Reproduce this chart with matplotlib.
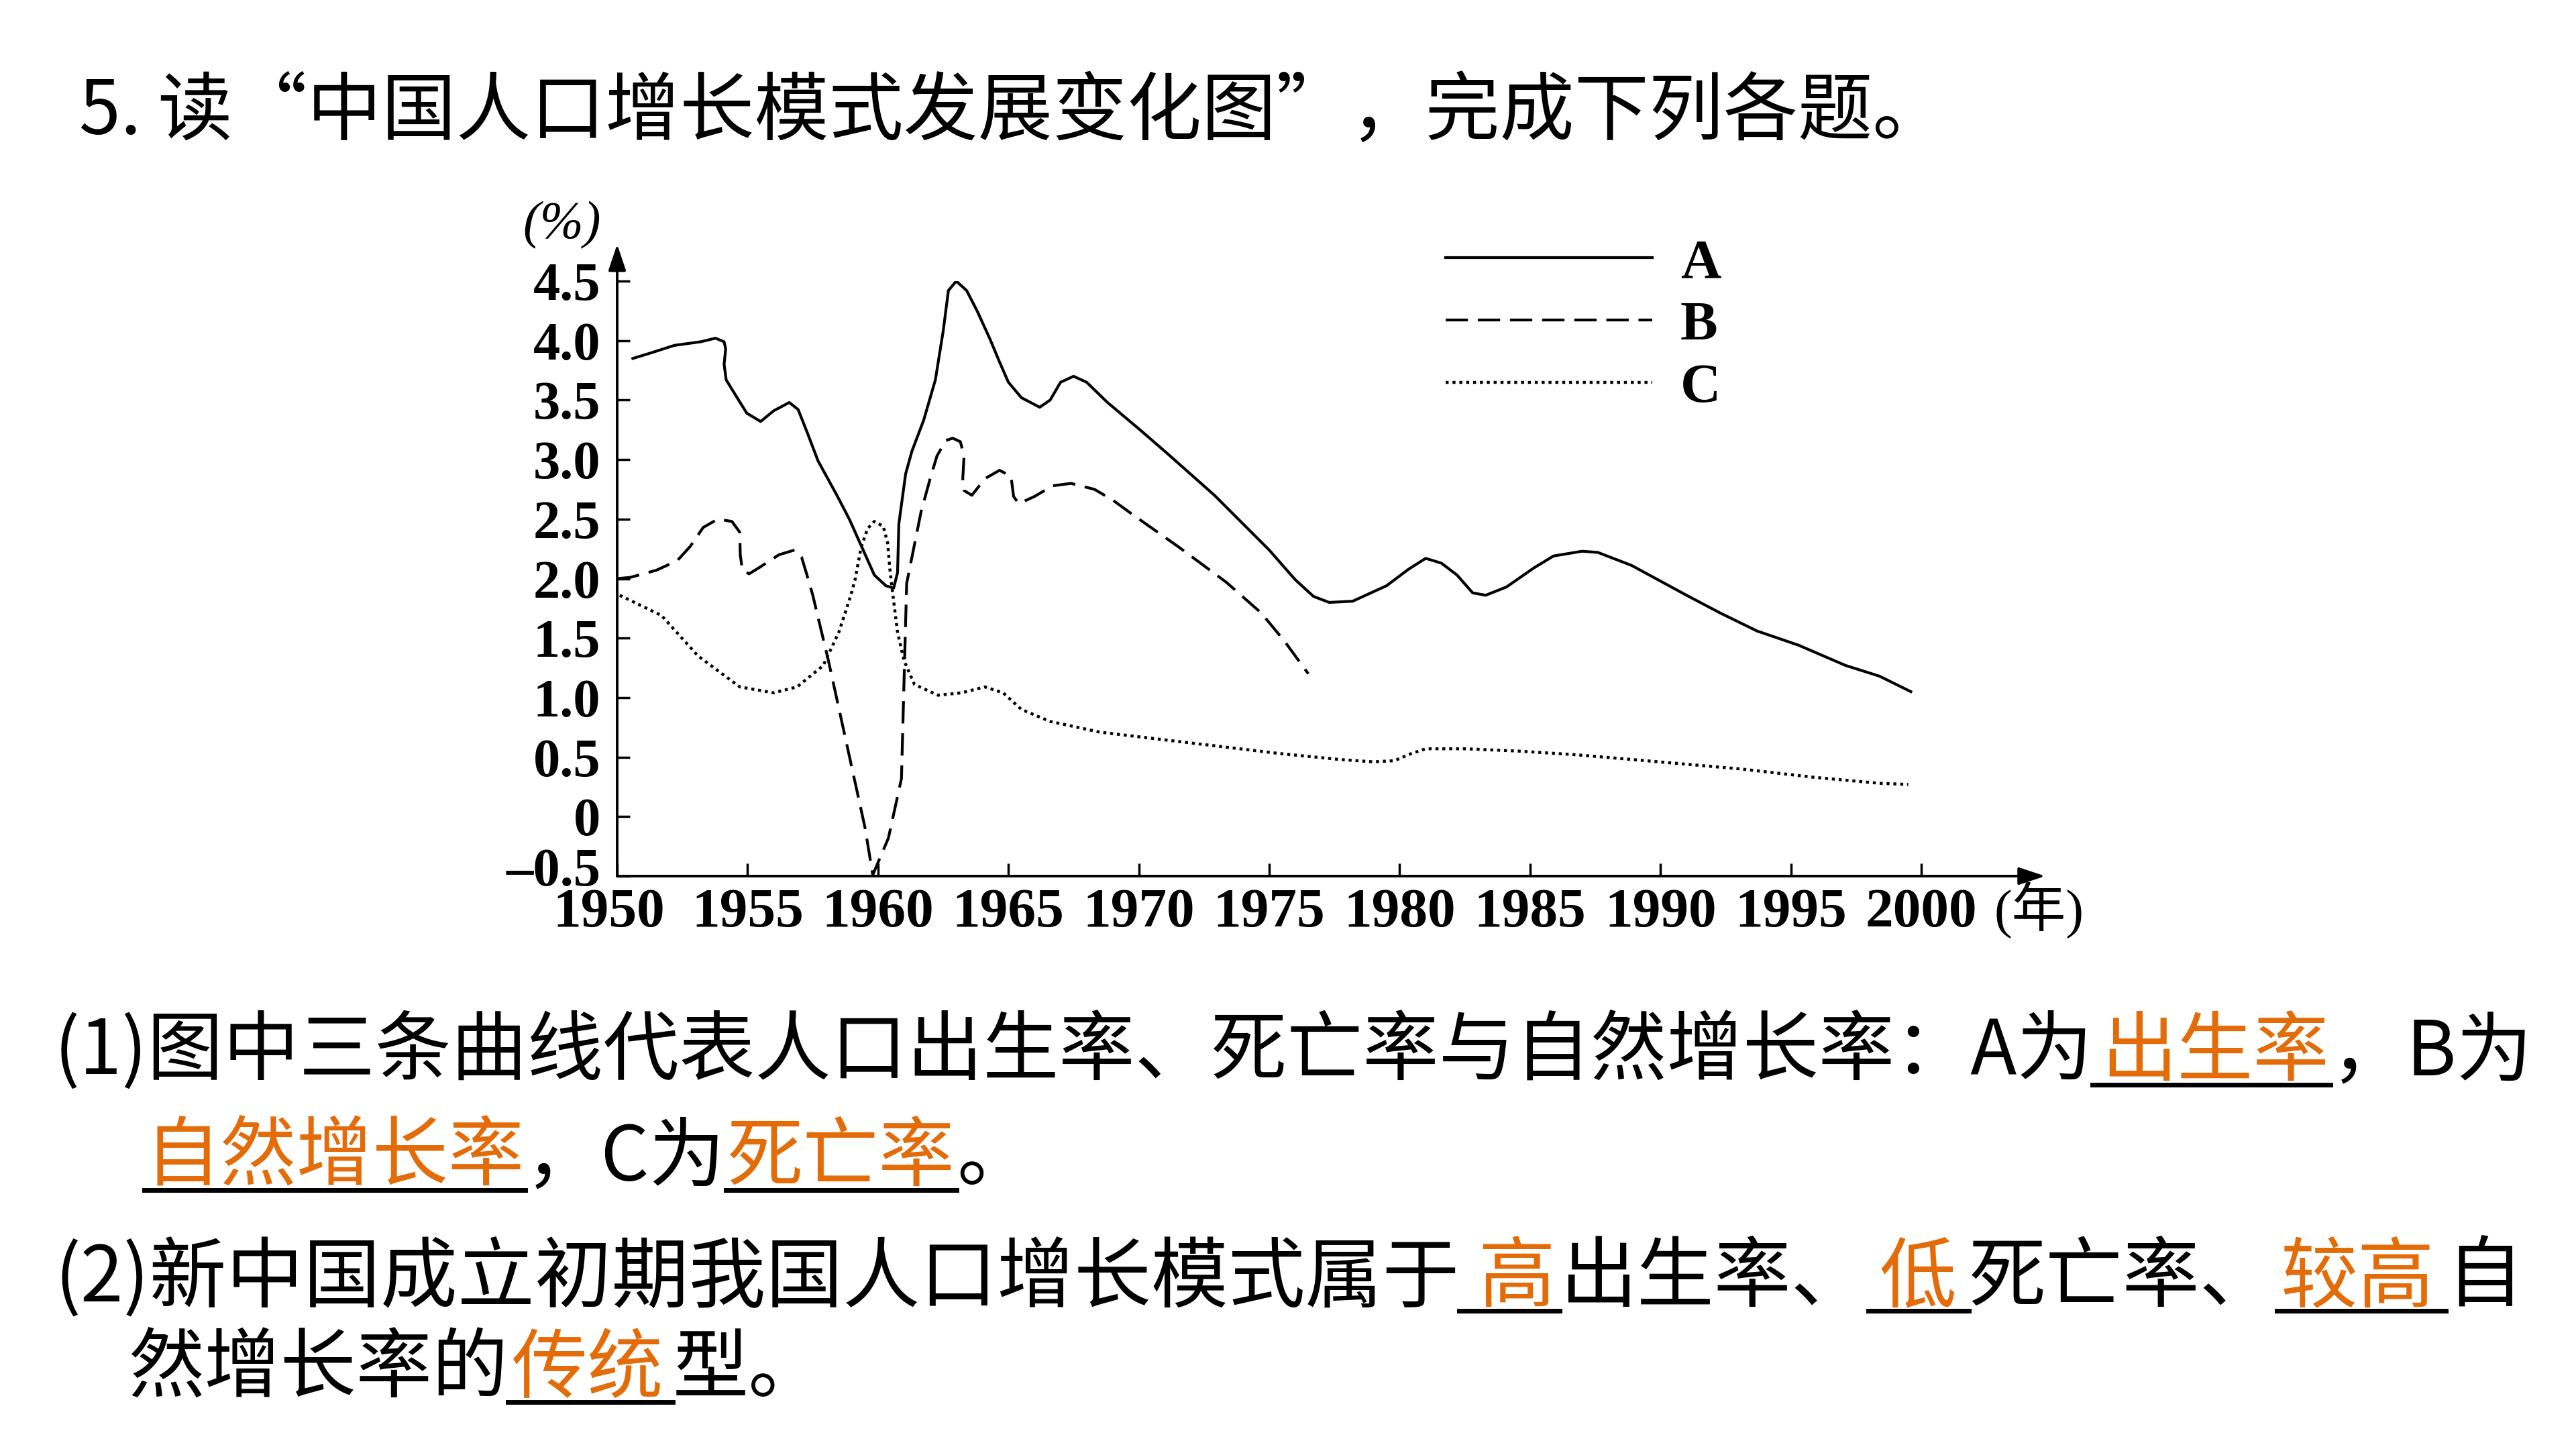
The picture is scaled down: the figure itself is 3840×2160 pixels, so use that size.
import matplotlib
matplotlib.use("Agg")
import matplotlib.pyplot as plt
from matplotlib.lines import Line2D
from matplotlib.transforms import ScaledTranslation
from matplotlib import font_manager as fm
from matplotlib.ft2font import FT2Font

plt.rcParams['font.family'] = ['Noto Sans CJK SC', 'DejaVu Sans']

# --- chart data ---
# A: birth rate
years_a = [1950.6, 1951.2, 1952.2, 1953.2, 1953.77, 1954.1, 1954.16, 1954.1, 1954.18, 1954.6,
           1954.97, 1955.5, 1956.0, 1956.6, 1956.94, 1957.3, 1957.7, 1958.4, 1958.9, 1959.35,
           1959.86, 1960.3, 1960.6, 1960.75, 1960.8, 1961.06, 1961.3, 1961.75, 1962.2, 1962.5,
           1962.7, 1963.0, 1963.4, 1963.8, 1964.3, 1964.66, 1965.0, 1965.5, 1966.2, 1966.6,
           1967.0, 1967.5, 1968.0, 1968.8, 1970.1, 1971.1, 1972.9, 1975.0, 1976.0, 1976.7,
           1977.3, 1978.2, 1979.5, 1980.35, 1981.0, 1981.6, 1982.2, 1982.8, 1983.3, 1984.1,
           1985.15, 1985.9, 1987.0, 1987.6, 1988.9, 1991.0, 1992.3, 1993.7, 1995.3, 1997.1,
           1998.4, 1999.6]
birth_rate = [3.85, 3.89, 3.96, 3.99, 4.02, 3.99, 3.93, 3.80, 3.67, 3.52,
              3.39, 3.32, 3.41, 3.48, 3.42, 3.22, 2.99, 2.71, 2.50, 2.28,
              2.03, 1.94, 1.92, 2.05, 2.46, 2.88, 3.07, 3.33, 3.67, 4.08,
              4.42, 4.50, 4.42, 4.25, 4.01, 3.82, 3.65, 3.52, 3.44, 3.50,
              3.65, 3.70, 3.65, 3.48, 3.24, 3.05, 2.70, 2.24, 1.99, 1.85,
              1.80, 1.81, 1.94, 2.08, 2.17, 2.13, 2.03, 1.88, 1.86, 1.93,
              2.09, 2.19, 2.23, 2.22, 2.11, 1.86, 1.71, 1.56, 1.44, 1.27,
              1.18, 1.05]

# B: natural growth rate
years_b = [1950.0, 1950.5, 1951.5, 1952.3, 1952.8, 1953.3, 1953.86, 1954.4, 1954.7, 1954.72,
           1954.8, 1955.06, 1955.5, 1956.2, 1956.8, 1957.07, 1957.25, 1957.5, 1958.1, 1958.8,
           1959.5, 1959.8, 1960.4, 1960.9, 1961.0, 1961.1, 1961.65, 1962.0, 1962.26, 1962.6,
           1962.86, 1963.16, 1963.3, 1963.25, 1963.3, 1963.6, 1964.1, 1964.66, 1965.1, 1965.2,
           1965.4, 1966.0, 1966.7, 1967.4, 1968.3, 1969.0, 1969.75, 1971.5, 1973.35, 1974.7,
           1975.6, 1976.5]
natural_growth = [2.00, 2.01, 2.07, 2.15, 2.27, 2.43, 2.50, 2.48, 2.39, 2.20,
                  2.07, 2.04, 2.10, 2.20, 2.24, 2.18, 2.05, 1.86, 1.31, 0.61,
                  -0.09, -0.49, -0.18, 0.32, 1.15, 1.96, 2.56, 2.84, 3.03, 3.16,
                  3.18, 3.15, 3.03, 2.84, 2.74, 2.70, 2.84, 2.91, 2.86, 2.69,
                  2.63, 2.69, 2.78, 2.80, 2.75, 2.66, 2.54, 2.27, 1.97, 1.71,
                  1.47, 1.20]

# C: death rate
years_c = [1950.1, 1951.7, 1953.1, 1954.7, 1956.0, 1956.9, 1957.9, 1958.5, 1958.96, 1959.13,
           1959.35, 1959.6, 1959.86, 1960.2, 1960.37, 1960.46, 1960.55, 1960.75, 1961.0, 1961.4,
           1962.3, 1963.2, 1964.1, 1964.8, 1965.5, 1966.6, 1968.5, 1970.8, 1973.1, 1975.4,
           1977.7, 1979.0, 1979.8, 1980.45, 1981.0, 1982.5, 1984.6, 1986.75, 1988.9, 1991.0,
           1993.1, 1995.9, 1998.4, 1999.5]
death_rate = [1.86, 1.69, 1.35, 1.09, 1.04, 1.09, 1.27, 1.55, 1.86, 2.00,
              2.26, 2.42, 2.48, 2.44, 2.30, 2.07, 1.90, 1.55, 1.31, 1.11,
              1.02, 1.04, 1.09, 1.04, 0.90, 0.80, 0.71, 0.65, 0.59, 0.53,
              0.48, 0.46, 0.47, 0.53, 0.57, 0.57, 0.55, 0.52, 0.48, 0.44,
              0.40, 0.33, 0.28, 0.27]

x_ticks = [1950, 1955, 1960, 1965, 1970, 1975, 1980, 1985, 1990, 1995, 2000]
y_ticks = [-0.5, 0, 0.5, 1.0, 1.5, 2.0, 2.5, 3.0, 3.5, 4.0, 4.5]
y_labels = ["\u20130.5", "0", "0.5", "1.0", "1.5", "2.0", "2.5", "3.0", "3.5", "4.0", "4.5"]
legend_labels = ["A", "B", "C"]

# --- slide text ---
ORANGE = "#E36C09"
title = "5. 读“中国人口增长模式发展变化图”，完成下列各题。"
line1 = [("(1)图中三条曲线代表人口出生率、死亡率与自然增长率：A为", "black", None),
         ("出生率", ORANGE, (0.12, 0.02)),
         ("，B为", "black", None)]
line2 = [("自然增长率", ORANGE, (0.0, 0.02)),
         ("，C为", "black", None),
         ("死亡率", ORANGE, (0.02, 0.02)),
         ("。", "black", None)]
line3 = [("(2)新中国成立初期我国人口增长模式属于", "black", None),
         ("高", ORANGE, (0.25, 0.06)),
         ("出生率、", "black", None),
         ("低", ORANGE, (0.15, 0.16)),
         ("死亡率、", "black", None),
         ("较高", ORANGE, (0.04, 0.15)),
         ("自", "black", None)]
line4 = [("然增长率的", "black", None),
         ("传统", ORANGE, (0.05, 0.12)),
         ("型。", "black", None)]

W, H = 3840, 2160
fig = plt.figure(figsize=(38.4, 21.6), dpi=100)


def fx(x):
    return x / W


def fy(y):
    return 1 - y / H


# chart
SERIF = "Liberation Serif"
ax = fig.add_axes([fx(920), fy(1306), (2864 - 920) / W, (1306 - 419) / H])
ax.patch.set_visible(False)
la, = ax.plot(years_a, birth_rate, color="black", lw=3)
lb, = ax.plot(years_b, natural_growth, color="black", lw=3, linestyle=(0, (8, 3.5)))
lc, = ax.plot(years_c, death_rate, color="black", lw=3.2, linestyle=(0, (1, 1.3)))

ax.set_xlim(1950, 2000)
ax.set_ylim(-0.5, 4.5)
ax.set_xticks(x_ticks)
ax.set_xticklabels([str(t) for t in x_ticks], fontsize=60, family=SERIF, weight="bold")
ax.set_yticks(y_ticks)
ax.set_yticklabels(y_labels, fontsize=58, family=SERIF, weight="bold")
ax.tick_params(axis="x", direction="in", length=14, width=2.5, pad=13)
ax.tick_params(axis="y", direction="in", length=14, width=2.5, pad=18)
for s in ax.spines.values():
    s.set_visible(False)

# nudge the two labels that meet at the origin apart, as in the original
lab_1950 = ax.get_xticklabels()[0]
lab_1950.set_transform(lab_1950.get_transform() + ScaledTranslation(-0.12, 0, fig.dpi_scale_trans))
lab_min = ax.get_yticklabels()[0]
lab_min.set_transform(lab_min.get_transform() + ScaledTranslation(0, 0.14, fig.dpi_scale_trans))

arrow = dict(arrowstyle="-|>,head_length=0.6,head_width=0.2", lw=2.8, color="black",
             shrinkA=0, shrinkB=0, mutation_scale=40)
ax.annotate("", xy=(1.095, 0), xytext=(0, 0), xycoords="axes fraction",
            textcoords="axes fraction", arrowprops=arrow)
ax.annotate("", xy=(0, 1.062), xytext=(0, 0), xycoords="axes fraction",
            textcoords="axes fraction", arrowprops=arrow)

fig.text(fx(838), fy(336), "(%)", fontsize=56, family=SERIF, style="italic",
         ha="center", va="center")
fig.text(fx(2973), fy(1356), "(年)", fontsize=58, family=[SERIF, "Noto Sans CJK SC"],
         ha="left", va="center")

ax.legend([la, lb, lc], legend_labels, loc="upper left",
          bbox_to_anchor=(fx(2155), fy(355)), bbox_transform=fig.transFigure,
          frameon=False, borderpad=0, borderaxespad=0, handlelength=3.7,
          handletextpad=0.5, labelspacing=0.2,
          prop=dict(family=SERIF, weight="bold", size=60))

# slide text, laid out segment by segment
cjk_path = fm.findfont(fm.FontProperties(family="Noto Sans CJK SC"))
ft = FT2Font(cjk_path, hinting_factor=1)


def advance(s, size):
    ft.set_size(size, 100)
    return sum(ft.load_char(ord(c)).linearHoriAdvance for c in s) / 65536


def write_line(x, base, segments, size=81.5):
    em = size * 100 / 72
    for text, color, blank in segments:
        if blank is None:
            fig.text(fx(x), fy(base), text, color=color, fontsize=size,
                     ha="left", va="baseline")
            x += advance(text, size)
        else:
            pl, pr = blank
            w = advance(text, size) + (pl + pr) * em
            fig.text(fx(x + pl * em), fy(base), text, color=color, fontsize=size,
                     ha="left", va="baseline")
            fig.add_artist(Line2D([fx(x), fx(x + w)], [fy(base + 15)] * 2,
                                  transform=fig.transFigure, color="black", lw=5))
            x += w


fig.text(fx(118), fy(200), title, fontsize=80, ha="left", va="baseline")
write_line(81, 1602, line1)
write_line(215, 1759, line2)
write_line(81, 1939, line3, size=82.7)
write_line(191, 2075, line4)

fig.savefig("out.png", dpi=100, facecolor="white")
